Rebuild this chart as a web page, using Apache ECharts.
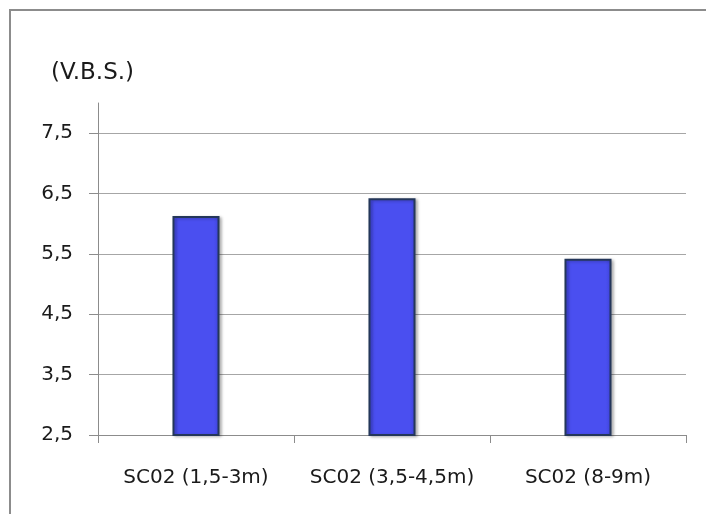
<!DOCTYPE html>
<html>
<head>
<meta charset="utf-8">
<script src="https://cdn.jsdelivr.net/npm/echarts@6/dist/echarts.min.js"></script>
<style>
  html, body { margin: 0; padding: 0; background: #fff; }
  #chart { width: 706px; height: 514px; }
</style>
</head>
<body>
<div id="chart"></div>
<script>
// Sample depths and their V.B.S. values
const categories = ['SC02 (1,5-3m)', 'SC02 (3,5-4,5m)', 'SC02 (8-9m)'];
const vbsValues = [6.13, 6.42, 5.42];
const yTickValues = [2.5, 3.5, 4.5, 5.5, 6.5, 7.5];
const yMin = 2.5;
const yMax = 8;
const unitLabel = '(V.B.S.)';

const FONT = '"DejaVu Sans", "Noto Sans", sans-serif';
const chart = echarts.init(document.getElementById('chart'), null, { renderer: 'canvas' });

chart.setOption({
  animation: false,
  backgroundColor: '#ffffff',
  title: {
    text: unitLabel,
    left: 46,
    top: 57,
    textStyle: { fontFamily: FONT, fontSize: 23, fontWeight: 'normal', color: '#1a1a1a' }
  },
  graphic: [{
    type: 'rect',
    shape: { x: 10, y: 10, width: 720, height: 520 },
    style: { fill: 'none', stroke: '#8c8c8c', lineWidth: 2 },
    silent: true
  }],
  grid: { left: 98, right: 20, top: 103, bottom: 79, containLabel: false },
  xAxis: {
    type: 'category',
    data: categories,
    boundaryGap: true,
    axisLine: { lineStyle: { color: '#8c8c8c', width: 1 } },
    axisTick: { show: true, length: 8, lineStyle: { color: '#8c8c8c' } },
    axisLabel: {
      interval: 0,
      hideOverlap: false,
      margin: 33,
      fontFamily: FONT, fontSize: 20, color: '#1a1a1a'
    }
  },
  yAxis: {
    type: 'value',
    min: yMin,
    max: yMax,
    interval: 0.5,
    axisLine: { show: true, lineStyle: { color: '#8c8c8c', width: 1 } },
    axisTick: { show: true, length: 9, inside: false, customValues: yTickValues, lineStyle: { color: '#8c8c8c' } },
    axisLabel: {
      customValues: yTickValues,
      margin: 25,
      fontFamily: FONT, fontSize: 20, color: '#1a1a1a',
      formatter: v => v.toFixed(1).replace('.', ',')
    },
    splitLine: { show: true, lineStyle: { color: '#a6a6a6', width: 1 } }
  },
  series: [{
    type: 'bar',
    data: vbsValues,
    barWidth: '24%',
    itemStyle: {
      color: new echarts.graphic.LinearGradient(0, 0, 1, 0, [
        { offset: 0, color: '#3e43d8' },
        { offset: 0.12, color: '#4a4ff0' },
        { offset: 0.88, color: '#4a4ff0' },
        { offset: 1, color: '#3e43d8' }
      ]),
      borderColor: '#24375a',
      borderWidth: 2,
      shadowColor: 'rgba(0,0,0,0.25)',
      shadowBlur: 3,
      shadowOffsetX: 2,
      shadowOffsetY: 1
    }
  }]
});
</script>
</body>
</html>
